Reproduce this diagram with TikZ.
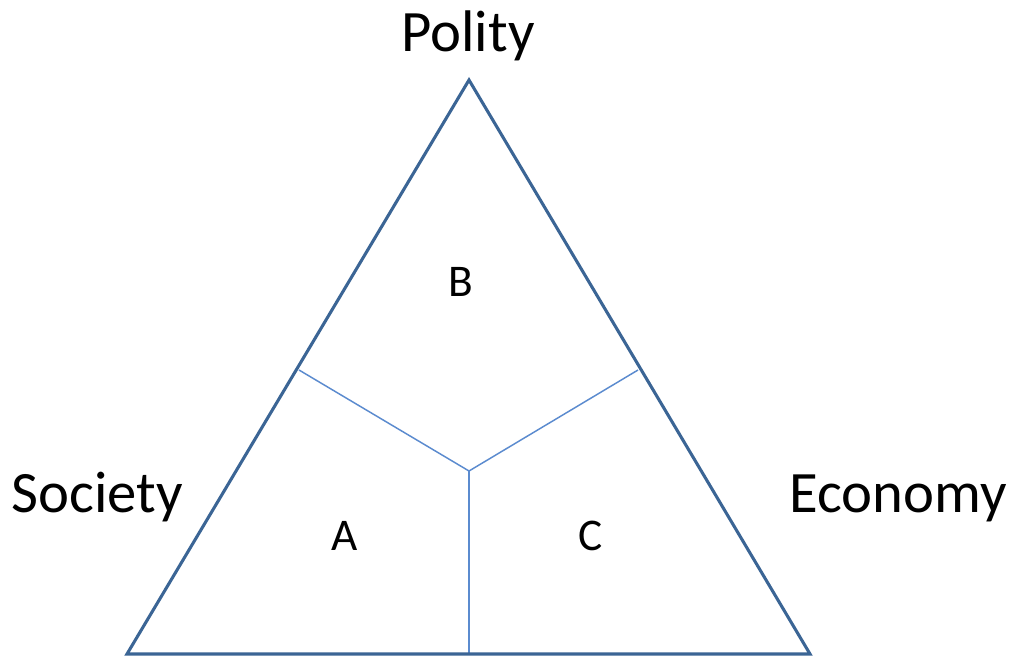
\documentclass[tikz,border=0pt]{standalone}
\usepackage{fontspec}
\setmainfont{Carlito}
\begin{document}
\begin{tikzpicture}[x=0.75pt,y=-0.75pt,
  outer/.style={draw=outerblue,line width=2.3pt,line join=miter},
  inner/.style={draw=innerblue,line width=1.1pt},
  biglabel/.style={font=\fontsize{44}{50}\selectfont,anchor=base,inner sep=0pt},
  reglabel/.style={font=\fontsize{34}{40}\selectfont,anchor=base,inner sep=0pt}]
\definecolor{outerblue}{HTML}{3B6595}
\definecolor{innerblue}{HTML}{5B8BCF}
\useasboundingbox[fill=white] (0,0) rectangle (1012,656);
\coordinate (top) at (469,80);
\coordinate (bl) at (127,654);
\coordinate (br) at (810,654);
\coordinate (mid) at (469,471);
\coordinate (lp) at (299,370);
\coordinate (rp) at (638,370);
\coordinate (bp) at (469,654);
\draw[inner] (lp) -- (mid) -- (rp);
\draw[inner] (mid) -- (bp);
\draw[outer] (top) -- (br) -- (bl) -- cycle;
\node[biglabel] (polity) at (468,52) {Polity};
\node[biglabel] (society) at (97,512) {Society};
\node[biglabel] (economy) at (898,512) {Economy};
\node[reglabel] (b) at (461,296) {B};
\node[reglabel] (a) at (345,550) {A};
\node[reglabel] (c) at (591,550) {C};
\end{tikzpicture}
\end{document}
